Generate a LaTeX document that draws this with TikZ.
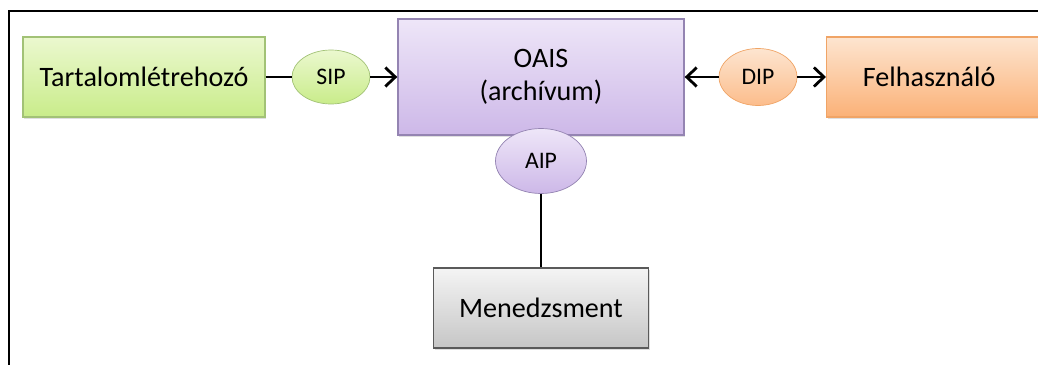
\documentclass[tikz,border=0pt]{standalone}
\usepackage{fontspec}
\setmainfont{Carlito}
\usepackage{xcolor}
\usetikzlibrary{arrows.meta,shapes,shadows}

\definecolor{greentop}{HTML}{EBF8CF}
\definecolor{greenbot}{HTML}{C9EC8A}
\definecolor{greenline}{HTML}{A2C276}
\definecolor{purpletop}{HTML}{EEE6F8}
\definecolor{purplebot}{HTML}{CDB8E8}
\definecolor{purpleline}{HTML}{9484B2}
\definecolor{orangetop}{HTML}{FDE5D0}
\definecolor{orangebot}{HTML}{FBB177}
\definecolor{orangeline}{HTML}{F0A466}
\definecolor{graytop}{HTML}{F4F4F4}
\definecolor{graybot}{HTML}{C6C6C6}
\definecolor{grayline}{HTML}{5A5A5A}

\begin{document}
\begin{tikzpicture}[x=0.02cm,y=-0.02cm]
		\tikzstyle{box}=[draw, thick, minimum height=1.6cm, font=\fontsize{16}{19}\selectfont, drop shadow={opacity=0.25,shadow xshift=0.8pt,shadow yshift=-1pt}]
		\tikzstyle{producer}=[box, draw=greenline, top color=greentop, bottom color=greenbot, minimum width=4.84cm]
		\tikzstyle{archive}=[box, draw=purpleline, top color=purpletop, bottom color=purplebot, minimum width=5.72cm, minimum height=2.32cm, align=center]
		\tikzstyle{consumer}=[box, draw=orangeline, top color=orangetop, bottom color=orangebot, minimum width=4.4cm]
		\tikzstyle{manager}=[box, draw=grayline, top color=graytop, bottom color=graybot, minimum width=4.3cm]
		\tikzstyle{package}=[ellipse, draw, inner sep=0pt, font=\fontsize{13.5}{16}\selectfont, minimum width=1.56cm, minimum height=1.08cm]
		\tikzstyle{link}=[line width=1.6pt]
		\tikzstyle{flow}=[link, -{Straight Barb[length=2mm,width=3.8mm]}]

		\clip (0,0) rectangle (1038,365);
		\draw [line width=1.4pt] (9,400) |- (1100,11);

		\node [producer] (tart) at (144,77) {Tartalomlétrehozó};
		\node [package, draw=greenline, top color=greentop, bottom color=greenbot] (sip) at (331,77) {SIP};
		\node [archive] (oais) at (541,77) {OAIS\\(archívum)};
		\node [package, draw=purpleline, top color=purpletop, bottom color=purplebot, minimum width=1.82cm, minimum height=1.3cm] (aip) at (541,161) {AIP};
		\node [package, draw=orangeline, top color=orangetop, bottom color=orangebot!85, minimum height=1.14cm] (dip) at (758,77) {DIP};
		\node [consumer, anchor=west] (user) at (826,77) {\hspace*{-0.3cm}Felhasználó};
		\node [manager] (mgmt) at (541,308) {Menedzsment};

		\draw [link] (tart) -- (sip);
		\draw [flow] (sip) -- (oais);
		\draw [flow] (dip) -- (oais);
		\draw [flow] (dip) -- (user);
		\draw [line width=1pt] (aip) -- (mgmt);
	\end{tikzpicture}
\end{document}
